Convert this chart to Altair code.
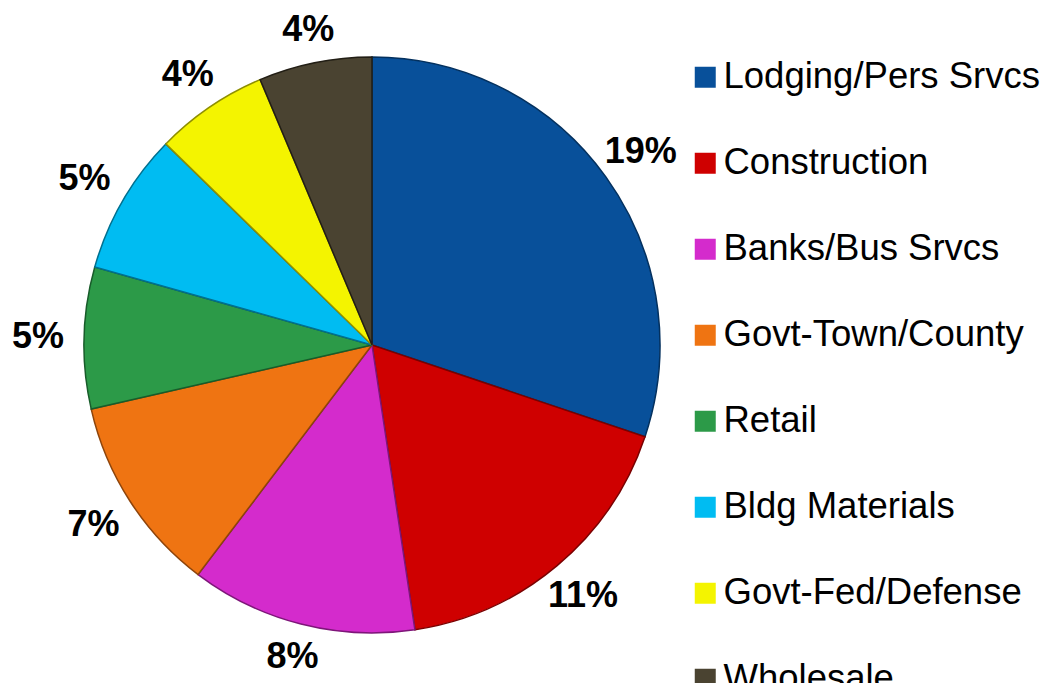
import altair as alt
import pandas as pd

categories = ["Lodging/Pers Srvcs", "Construction", "Banks/Bus Srvcs", "Govt-Town/County",
              "Retail", "Bldg Materials", "Govt-Fed/Defense", "Wholesale"]
values = [19, 11, 8, 7, 5, 5, 4, 4]
labels = ["19%", "11%", "8%", "7%", "5%", "5%", "4%", "4%"]
colors = ["#08509a", "#cf0000", "#d42bcc", "#ef7412", "#2c9a48", "#00bcf2", "#f4f400", "#4a4331"]
edges = ["#03305e", "#7a0000", "#7e1679", "#8e440a", "#185c2a", "#00708f", "#8f8f00", "#221e15"]

df = pd.DataFrame({
    "category": categories,
    "value": values,
    "label": labels,
    "idx": list(range(len(categories))),
})

CX, CY = 364, 337

arc = alt.Chart(df).mark_arc(outerRadius=288, x=CX, y=CY, strokeWidth=1.5).encode(
    theta=alt.Theta("value:Q", stack=True),
    order=alt.Order("idx:Q"),
    color=alt.Color(
        "category:N",
        scale=alt.Scale(domain=categories, range=colors),
        sort=categories,
        legend=alt.Legend(
            title=None,
            orient="none",
            legendX=679,
            legendY=51,
            symbolType="square",
            symbolSize=441,
            symbolStrokeWidth=0,
            labelFontSize=36.5,
            labelFont="Liberation Sans",
            labelColor="#000000",
            labelOffset=0,
            rowPadding=49,
            padding=0,
            labelLimit=400,
        ),
    ),
    stroke=alt.Stroke(
        "category:N",
        scale=alt.Scale(domain=categories, range=edges),
        legend=None,
    ),
)

text = alt.Chart(df).transform_joinaggregate(
    total="sum(value)"
).transform_window(
    cum="sum(value)", sort=[alt.SortField("idx")]
).transform_calculate(
    mid="(datum.cum - datum.value / 2) / datum.total * 2 * PI",
    r="318 + 16 * abs(sin(datum.mid))",
).transform_calculate(
    px=f"{CX} + datum.r * sin(datum.mid)",
    py=f"{CY} - datum.r * cos(datum.mid)",
).mark_text(
    fontSize=36, fontWeight="bold",
    font="Liberation Sans", color="#000000",
).encode(
    x=alt.X("px:Q", scale=None, axis=None),
    y=alt.Y("py:Q", scale=None, axis=None),
    text="label:N",
)

chart = (arc + text).properties(
    width=1036,
    height=675,
    autosize=alt.AutoSizeParams(type="none"),
    padding=0,
).configure_view(stroke=None)

chart.save("out.html", embed_options={"renderer": "svg", "actions": False})
